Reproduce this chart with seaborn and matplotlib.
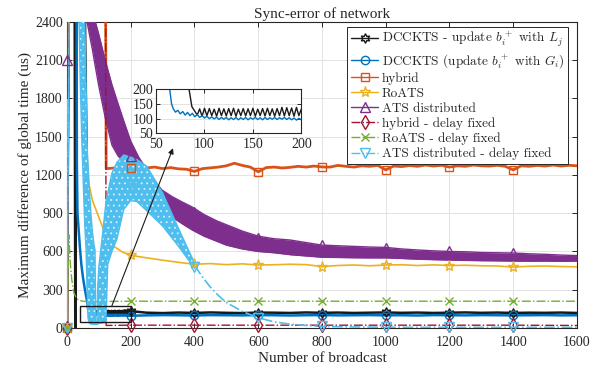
import matplotlib.pyplot as plt
import matplotlib.patches as patches
from matplotlib.lines import Line2D
import numpy as np
import seaborn as sns

# values (x = number of broadcast, y = us)
marker_x = [0, 200, 400, 600, 800, 1000, 1200, 1400]

# DCCKTS - update b_i^+ with L_j (black)
lj_early_x = [0, 6, 24, 26, 30, 55, 62, 72, 80, 84, 87]
lj_early_y = [0, 2700, 2700, 0, 2700, 2700, 1300, 350, 250, 200, 140]
lj_fine_y = [125, 112, 133, 108, 135, 110, 134, 110, 132, 108,
             135, 110, 133, 109, 134, 110, 135, 108, 132, 110,
             134, 109, 133, 110, 135, 108, 132, 110, 134, 109,
             135, 110, 133, 108, 134, 110, 138, 109, 137, 110,
             136, 108, 138, 110, 132]
lj_tail_y = [120, 117, 121, 118, 122, 119, 117, 121, 120, 118,
             122, 119, 121, 118, 120, 122, 119, 121, 118, 120,
             122, 119, 121, 118, 120, 119, 121, 118]

# DCCKTS (update b_i^+ with G_i) (blue)
gi_early_x = [0, 3, 30, 31, 33, 40, 45, 50, 55, 60, 64, 66]
gi_early_y = [0, 2700, 2700, 1300, 900, 650, 500, 400, 320, 250, 200, 150]
gi_fine_y = [135, 122, 128, 116, 124, 112, 121, 110, 118, 106,
             114, 104, 110, 102, 108, 100, 106, 99, 105, 97,
             104, 98, 104, 96, 103, 97, 104, 96, 103, 97,
             104, 96, 103, 98, 104, 97, 103, 96, 104, 97,
             103, 98, 104, 97, 103, 98, 104, 97, 103, 96,
             102, 95, 101, 96]
gi_tail_y = [99, 101, 100, 98, 101, 100, 99, 101, 100, 98,
             100, 101, 99, 100, 101, 99, 100, 98, 101, 100,
             99, 101, 100, 99, 100, 101, 99, 100]

# hybrid (orange)
hy_early_x = [0, 2, 121, 123]
hy_early_y = [0, 2700, 2700, 1250]
hy_tail_y = [1250, 1255, 1248, 1252, 1260, 1255, 1262, 1250, 1258, 1248,
             1245, 1228, 1250, 1256, 1262, 1272, 1292, 1275, 1262, 1225,
             1258, 1262, 1255, 1260, 1268, 1262, 1270, 1263, 1262, 1275,
             1268, 1262, 1272, 1268, 1275, 1240, 1270, 1266, 1274, 1268,
             1278, 1270, 1276, 1262, 1272, 1268, 1278, 1272, 1270, 1276,
             1268, 1240, 1272, 1268, 1275, 1270, 1278, 1270, 1276, 1272]

# RoATS (yellow)
ro_early_x = [0, 4, 40, 45, 52, 60, 68, 80, 95, 115, 130, 150, 175, 200]
ro_early_y = [0, 2700, 2700, 2200, 1950, 1500, 1140, 1000, 900, 770, 690, 635, 595, 570]
ro_tail_y = [550, 532, 515, 500, 505, 497, 503, 494, 496, 500,
             497, 482, 490, 494, 488, 494, 496, 490, 495, 490,
             492, 488, 486, 478, 484, 486, 482, 480]

# ATS distributed (purple): band envelope
ats_x = [55, 63, 70, 80, 89, 99, 120, 141, 160, 180, 200, 225, 245, 270, 298, 330, 360, 392,
         430, 470, 500, 550, 600, 650, 700, 750, 800, 850, 900, 950, 1000, 1050, 1100,
         1150, 1200, 1250, 1300, 1350, 1400, 1450, 1500, 1550, 1600]
ats_hi = [2750, 2680, 2600, 2500, 2400, 2310, 2100, 1908, 1760, 1610, 1465, 1340, 1263, 1170,
          1082, 1030, 990, 950, 890, 840, 810, 760, 720, 700, 690, 670, 650, 645, 640, 635,
          632, 620, 612, 605, 600, 598, 592, 590, 588, 582, 578, 572, 568]
ats_lo = [2500, 2400, 2310, 2180, 2050, 1908, 1650, 1435, 1350, 1300, 1250, 1160, 1082, 1000,
          925, 870, 820, 770, 720, 680, 650, 620, 600, 590, 575, 565, 555, 553, 551, 550,
          550, 545, 540, 536, 533, 530, 528, 527, 525, 524, 525, 523, 525]
ats_start_x = [0, 1, 2]
ats_start_y = [2100, 1800, 2750]
ats_marks = [2100, 1350, 910, 706, 650, 627, 600, 590]

# hybrid - delay fixed (dark red)
hyf_x = [0, 8, 121, 123, 200, 400, 600, 800, 1000, 1200, 1400, 1600]
hyf_y = [0, 2700, 2700, 20, 22, 22, 22, 22, 22, 22, 22, 20]

# RoATS - delay fixed (green)
rof_x = [0, 6, 10, 15, 22, 30, 40, 63, 100, 200, 400, 600, 800, 1000, 1200, 1400, 1600]
rof_y = [0, 730, 520, 380, 275, 230, 215, 205, 208, 210, 210, 210, 210, 210, 210, 210, 210]

# ATS distributed - delay fixed (cyan): falling leg, hump and tail
atf_start_x = [0, 8, 38]
atf_start_y = [0, 2700, 2700]
leg_x = [38, 42, 47, 53, 56, 60, 63, 66, 70, 75, 80, 85, 88, 90]
leg_a = [2400, 1900, 1435, 1000, 800, 612, 300, 80, 40, 30, 30, 30, 30, 30]
leg_b = [2750, 2750, 2750, 2550, 2400, 1900, 1435, 1280, 1100, 900, 750, 650, 612, 30]
hump_x = [88, 94, 96, 100, 110, 122, 128, 141, 157, 178, 200, 220, 250, 300, 350, 400]
hump_hi = [30, 40, 300, 480, 700, 980, 1060, 1215, 1300, 1357, 1340, 1320, 1270, 1060, 780, 510]
hump_lo = [30, 30, 30, 35, 40, 45, 500, 600, 700, 930, 1000, 990, 920, 800, 640, 470]
atf_tail_x = [400, 425, 450, 475, 500, 550, 600, 650, 700, 750, 800, 900, 1000, 1100,
              1200, 1300, 1400, 1500, 1600]
atf_tail_y = [490, 400, 320, 255, 200, 130, 80, 48, 30, 20, 12, 8, 6, 5, 5, 5, 5, 5, 5]
atf_marks = [0, 1100, 480, 75, 12, 5, 5, 5]

labels = [r"DCCKTS - update $b_i^+$ with $L_j$",
          r"DCCKTS (update $b_i^+$ with $G_i$)",
          "hybrid", "RoATS", "ATS distributed",
          "hybrid - delay fixed", "RoATS - delay fixed",
          "ATS distributed - delay fixed"]

# assemble full series
lj_x = lj_early_x + list(90 + 2.5 * np.arange(len(lj_fine_y))) + list(range(250, 1601, 50))
lj_y = lj_early_y + lj_fine_y + lj_tail_y
gi_x = gi_early_x + list(67.5 + 2.5 * np.arange(len(gi_fine_y))) + list(range(250, 1601, 50))
gi_y = gi_early_y + gi_fine_y + gi_tail_y
hy_x = hy_early_x + list(range(125, 1601, 25))
hy_y = hy_early_y + hy_tail_y
ro_x = ro_early_x + list(range(250, 1601, 50))
ro_y = ro_early_y + ro_tail_y

BLACK = "k"
BLUE = "#0072BD"
ORANGE = "#D95319"
YELLOW = "#EDB120"
PURPLE = "#7E2F8E"
RED = "#A2142F"
GREEN = "#77AC30"
CYAN = "#4DBEEE"
HEXAGRAM = (6, 1, 0)

sns.set_theme(style="ticks")
plt.rcParams["font.family"] = ["Liberation Serif", "DejaVu Serif"]
plt.rcParams["mathtext.fontset"] = "cm"
plt.rcParams["hatch.linewidth"] = 0.6


def draw(axis, x, y, color, ls="-", lw=1.0, z=2):
    sns.lineplot(x=np.asarray(x, float), y=np.asarray(y, float), ax=axis, color=color,
                 linestyle=ls, linewidth=lw, sort=False, estimator=None, zorder=z)


def pick(x, y, pts):
    return [y[list(x).index(p)] for p in pts]


def marks(axis, ys, color, m, ms=6, z=6):
    axis.plot(marker_x, ys, ls="none", marker=m, ms=ms, mfc="none", mec=color,
              mew=1.0, zorder=z, clip_on=False)


fig = plt.figure(figsize=(6.05, 3.77), dpi=100)
ax = fig.add_axes([0.1107, 0.130, 0.843, 0.8117])

draw(ax, lj_x, lj_y, BLACK, lw=1.8, z=3)
draw(ax, gi_x, gi_y, BLUE, lw=1.8, z=3.1)
draw(ax, hy_x, hy_y, ORANGE, lw=2.0, z=3.2)
draw(ax, ro_x, ro_y, YELLOW, lw=1.2, z=3.3)
ax.fill_between(ats_x, ats_lo, ats_hi, color=PURPLE, lw=0, zorder=3.4)
draw(ax, ats_x, ats_hi, PURPLE, lw=1.0, z=3.4)
draw(ax, ats_x, ats_lo, PURPLE, lw=1.0, z=3.4)
draw(ax, ats_start_x, ats_start_y, PURPLE, lw=1.0, z=3.4)
draw(ax, hyf_x, hyf_y, RED, ls="-.", lw=1.0, z=3.5)
draw(ax, rof_x, rof_y, GREEN, ls="-.", lw=1.0, z=3.6)
draw(ax, atf_start_x, atf_start_y, CYAN, lw=1.0, z=3.7)
for xs, a, b in [(leg_x, leg_a, leg_b), (hump_x, hump_lo, hump_hi)]:
    ax.fill_between(xs, a, b, facecolor=CYAN, edgecolor="#d8f1fb", hatch="...", lw=0, zorder=3.7)
    draw(ax, xs, a, CYAN, lw=1.0, z=3.7)
    draw(ax, xs, b, CYAN, lw=1.0, z=3.7)
draw(ax, atf_tail_x, atf_tail_y, CYAN, ls="-.", lw=1.2, z=3.7)

marks(ax, pick(lj_x, lj_y, marker_x), BLACK, HEXAGRAM, ms=7)
marks(ax, pick(gi_x, gi_y, marker_x), BLUE, "o")
marks(ax, pick(hy_x, hy_y, marker_x), ORANGE, "s")
marks(ax, pick(ro_x, ro_y, marker_x), YELLOW, "*", ms=8)
marks(ax, ats_marks, PURPLE, "^", ms=7)
marks(ax, pick(hyf_x, hyf_y, marker_x), RED, "d", ms=7)
marks(ax, pick(rof_x, rof_y, marker_x), GREEN, "x")
marks(ax, atf_marks, CYAN, "v", ms=7)

ax.set_xlim(0, 1600)
ax.set_ylim(0, 2400)
ax.set_xticks(range(0, 1601, 200))
ax.set_yticks(range(0, 2401, 300))
ax.grid(True, color="#e3e3e3", lw=0.7)
ax.set_axisbelow(True)
ax.tick_params(direction="in", top=True, right=True, length=3.5, width=0.7,
               labelsize=10, colors="#262626")
ax.tick_params(axis="x", pad=6)
ax.tick_params(axis="y", pad=3)
for s in ax.spines.values():
    s.set_color("#262626")
    s.set_linewidth(0.8)
ax.set_xlabel("Number of broadcast", fontsize=11, labelpad=2)
ax.set_ylabel("Maximum difference of global time (us)", fontsize=11, labelpad=2)
ax.set_title("Sync-error of network", fontsize=11, pad=3)

# zoom box and arrow to the inset
zoom_box = (40, 50, 160, 125)
ax.add_patch(patches.Rectangle(zoom_box[:2], zoom_box[2], zoom_box[3], fill=False,
                               ec="k", lw=1.0, zorder=8))
ax.annotate("", xy=(0.286, 0.607), xycoords="figure fraction", xytext=(141, 175),
            textcoords="data",
            arrowprops=dict(arrowstyle="-|>", color="k", lw=0.8, mutation_scale=8,
                            shrinkA=0, shrinkB=0), zorder=8)

handles = [
    Line2D([], [], color=BLACK, marker=HEXAGRAM, ms=7, mfc="none", lw=1),
    Line2D([], [], color=BLUE, marker="o", ms=6, mfc="none", lw=1),
    Line2D([], [], color=ORANGE, marker="s", ms=6, mfc="none", lw=1),
    Line2D([], [], color=YELLOW, marker="*", ms=8, mfc="none", lw=1),
    Line2D([], [], color=PURPLE, marker="^", ms=7, mfc="none", lw=1),
    Line2D([], [], color=RED, marker="d", ms=7, mfc="none", lw=1, ls="-."),
    Line2D([], [], color=GREEN, marker="x", ms=6, mfc="none", lw=1, ls="-."),
    Line2D([], [], color=CYAN, marker="v", ms=7, mfc="none", lw=1, ls="-."),
]
leg = ax.legend(handles, labels, loc="upper right", bbox_to_anchor=(0.982, 0.984),
                borderaxespad=0, prop={"family": "cmr10", "size": 9.5},
                fancybox=False, framealpha=1, edgecolor="#262626", borderpad=0.25,
                labelspacing=0.2, handlelength=2.1, handletextpad=0.25)
leg.get_frame().set_linewidth(0.7)
leg.set_zorder(10)

# inset
axin = fig.add_axes([0.258, 0.646, 0.240, 0.118])
draw(axin, lj_x, lj_y, BLACK, lw=1.0)
draw(axin, gi_x, gi_y, BLUE, lw=1.0)
axin.set_xlim(50, 200)
axin.set_ylim(50, 200)
axin.set_xticks([50, 100, 150, 200])
axin.set_yticks([50, 100, 150, 200])
axin.grid(True, color="#e3e3e3", lw=0.7)
axin.set_axisbelow(True)
axin.tick_params(direction="in", top=True, right=True, length=3, width=0.7,
                 labelsize=10, colors="#262626")
axin.tick_params(axis="x", pad=3.5)
axin.tick_params(axis="y", pad=2)
for s in axin.spines.values():
    s.set_color("#262626")
    s.set_linewidth(0.8)

fig.savefig("out.png", dpi=100)
